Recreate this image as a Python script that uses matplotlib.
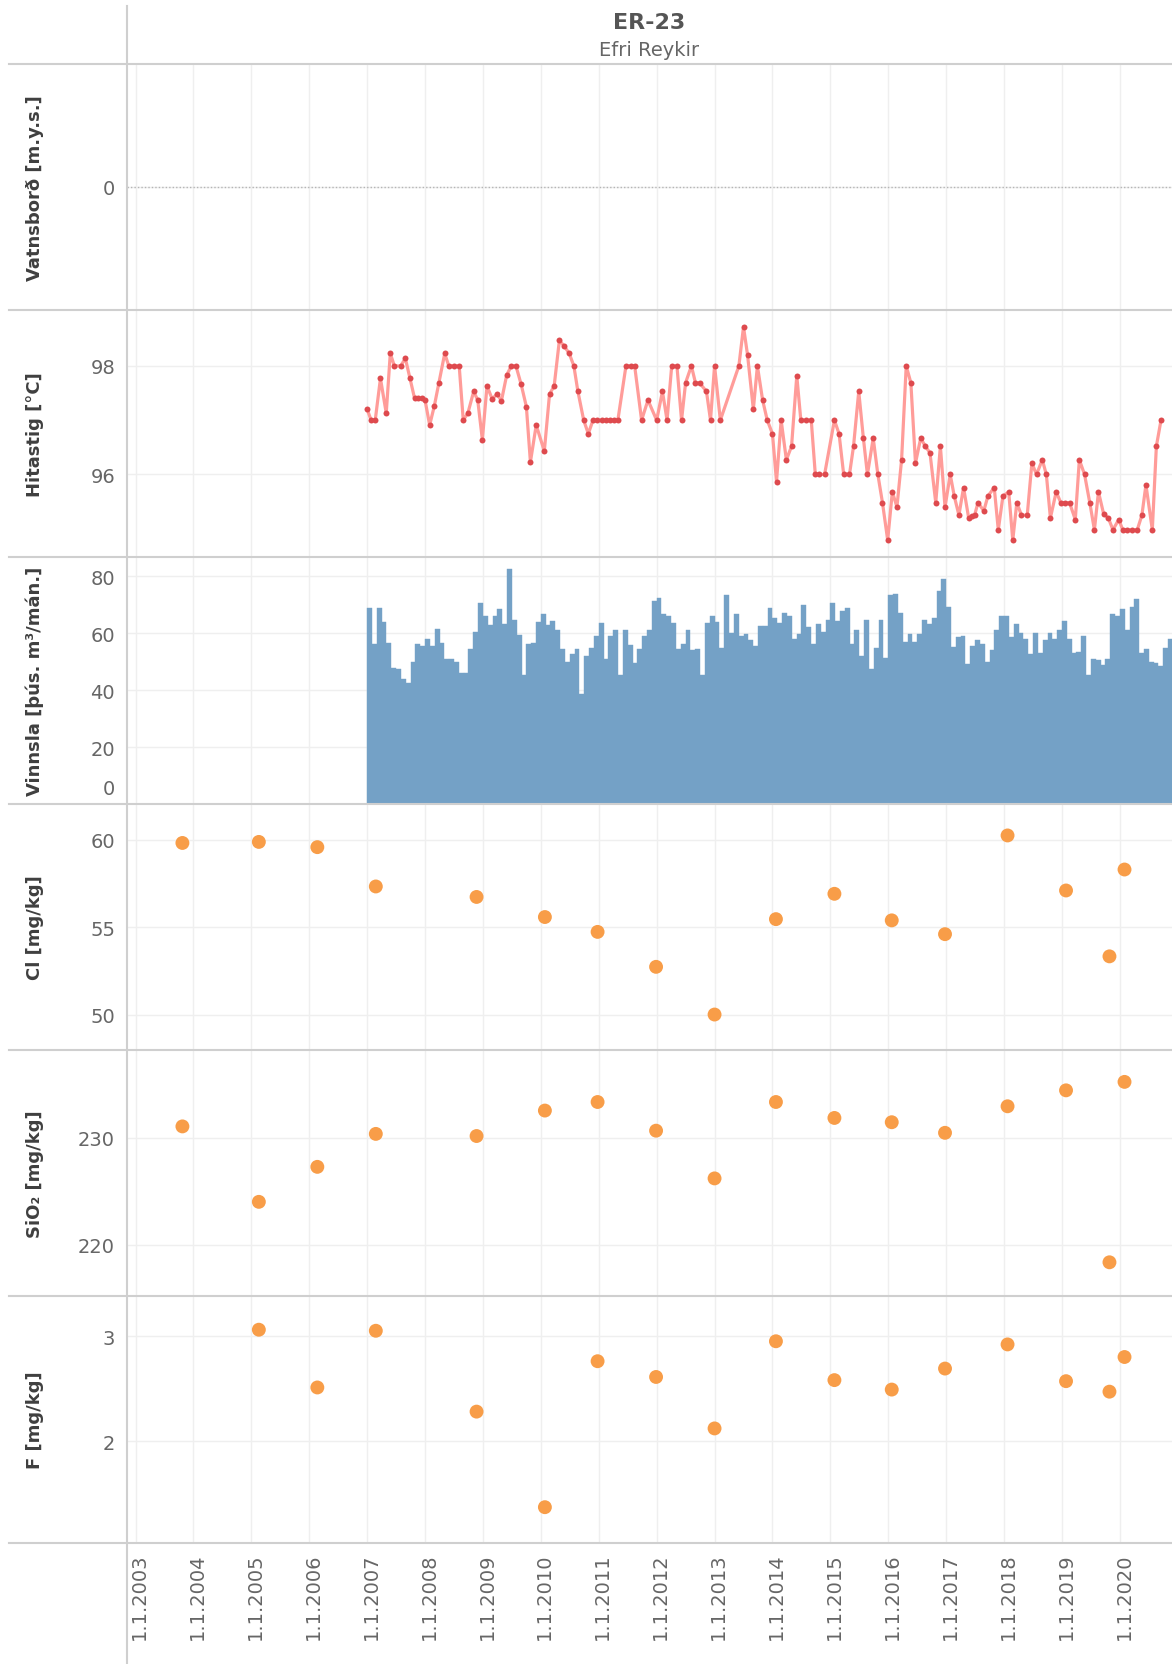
import numpy as np
import matplotlib
matplotlib.use("Agg")
import matplotlib.pyplot as plt
from matplotlib.lines import Line2D
from matplotlib.transforms import ScaledTranslation

# ---------------- data ----------------
title = "ER-23"
subtitle = "Efri Reykir"
panel_labels = ["Vatnsborð [m.y.s.]", "Hitastig [°C]", "Vinnsla [þús. m³/mán.]",
                "Cl [mg/kg]", "SiO₂ [mg/kg]", "F [mg/kg]"]

tick_years = [2003, 2004, 2005, 2006, 2007, 2008, 2009, 2010, 2011,
              2012, 2013, 2014, 2015, 2016, 2017, 2018, 2019, 2020]
tick_labels = ["1.1.%d" % y for y in tick_years]

temp_dates = [
    2007.00, 2007.07, 2007.14, 2007.23, 2007.33, 2007.40, 2007.47, 2007.58, 2007.66, 2007.74,
    2007.82, 2007.87, 2007.94, 2008.00, 2008.08, 2008.16, 2008.24, 2008.34, 2008.41, 2008.50,
    2008.59, 2008.66, 2008.74, 2008.84, 2008.91, 2008.99, 2009.07, 2009.16, 2009.24, 2009.32,
    2009.41, 2009.49, 2009.57, 2009.66, 2009.75, 2009.82, 2009.92, 2010.06, 2010.15, 2010.23,
    2010.32, 2010.40, 2010.49, 2010.57, 2010.64, 2010.74, 2010.82, 2010.90, 2010.97, 2011.05,
    2011.13, 2011.20, 2011.27, 2011.33, 2011.47, 2011.55, 2011.62, 2011.74, 2011.85, 2012.00,
    2012.10, 2012.18, 2012.26, 2012.35, 2012.43, 2012.50, 2012.60, 2012.67, 2012.74, 2012.86,
    2012.93, 2013.00, 2013.10, 2013.42, 2013.50, 2013.57, 2013.67, 2013.74, 2013.83, 2013.91,
    2014.00, 2014.07, 2014.15, 2014.24, 2014.33, 2014.42, 2014.49, 2014.58, 2014.67, 2014.74,
    2014.81, 2014.90, 2015.07, 2015.15, 2015.23, 2015.33, 2015.40, 2015.49, 2015.57, 2015.64,
    2015.74, 2015.82, 2015.90, 2015.99, 2016.07, 2016.15, 2016.23, 2016.31, 2016.39, 2016.47,
    2016.56, 2016.64, 2016.72, 2016.82, 2016.90, 2016.98, 2017.07, 2017.14, 2017.22, 2017.30,
    2017.39, 2017.44, 2017.49, 2017.55, 2017.65, 2017.72, 2017.83, 2017.90, 2017.98, 2018.08,
    2018.15, 2018.22, 2018.30, 2018.40, 2018.48, 2018.56, 2018.66, 2018.73, 2018.80, 2018.90,
    2018.98, 2019.05, 2019.13, 2019.23, 2019.30, 2019.39, 2019.48, 2019.56, 2019.63, 2019.72,
    2019.80, 2019.88, 2019.98, 2020.05, 2020.13, 2020.21, 2020.30, 2020.38, 2020.45, 2020.56,
    2020.63, 2020.71]
temp_values = [
    97.20, 97.00, 97.00, 97.77, 97.13, 98.23, 98.00, 98.00, 98.14, 97.77,
    97.40, 97.40, 97.40, 97.37, 96.91, 97.26, 97.69, 98.23, 98.00, 98.00,
    98.00, 97.00, 97.13, 97.53, 97.37, 96.64, 97.63, 97.39, 97.48, 97.36,
    97.83, 98.00, 98.00, 97.66, 97.25, 96.23, 96.91, 96.43, 97.48, 97.63,
    98.47, 98.37, 98.23, 98.00, 97.53, 97.00, 96.75, 97.00, 97.00, 97.00,
    97.00, 97.00, 97.00, 97.00, 98.00, 98.00, 98.00, 97.00, 97.37, 97.00,
    97.53, 97.00, 98.00, 98.00, 97.00, 97.69, 98.00, 97.69, 97.69, 97.53,
    97.00, 98.00, 97.00, 98.00, 98.72, 98.20, 97.20, 98.00, 97.37, 97.00,
    96.75, 95.87, 97.00, 96.27, 96.52, 97.82, 97.00, 97.00, 97.00, 96.00,
    96.00, 96.00, 97.00, 96.75, 96.00, 96.00, 96.52, 97.53, 96.67, 96.00,
    96.67, 96.00, 95.48, 94.79, 95.68, 95.40, 96.27, 98.00, 97.69, 96.21,
    96.67, 96.52, 96.40, 95.48, 96.52, 95.40, 96.00, 95.60, 95.25, 95.76,
    95.19, 95.23, 95.25, 95.48, 95.33, 95.60, 95.76, 94.98, 95.60, 95.68,
    94.79, 95.48, 95.25, 95.25, 96.21, 96.00, 96.27, 96.00, 95.20, 95.68,
    95.48, 95.48, 95.48, 95.17, 96.27, 96.00, 95.48, 94.98, 95.68, 95.27,
    95.20, 94.98, 95.17, 94.98, 94.98, 94.98, 94.98, 95.25, 95.81, 94.98,
    96.52, 97.00]

# monthly production (thousand m3 / month), Jan 2007 ... Nov 2020
prod_start_year = 2007
prod_values = [
    68.8, 56.1, 68.8, 64.1, 56.6, 47.9, 47.3, 43.8, 42.4, 49.9, 56.1, 55.6,   # 2007
    58.0, 55.6, 61.6, 56.6, 50.9, 50.9, 50.0, 45.9, 45.9, 54.5, 60.6, 70.8,   # 2008
    65.9, 62.8, 66.2, 68.4, 63.3, 82.7, 64.7, 59.3, 45.3, 56.1, 56.6, 64.1,   # 2009
    66.7, 62.8, 64.4, 61.2, 54.4, 49.9, 52.8, 54.4, 38.7, 51.9, 54.9, 59.2,   # 2010
    63.6, 50.9, 59.2, 61.1, 45.3, 61.1, 55.9, 49.4, 54.5, 59.2, 61.1, 71.4,   # 2011
    72.5, 66.8, 65.9, 63.6, 54.5, 56.1, 61.1, 54.0, 54.4, 45.3, 63.6, 66.2,   # 2012
    64.1, 54.9, 73.4, 60.1, 66.8, 59.2, 59.6, 57.5, 55.6, 62.7, 62.7, 68.8,   # 2013
    65.4, 63.6, 67.2, 65.9, 58.0, 59.6, 69.9, 62.1, 56.1, 63.2, 60.6, 64.6,   # 2014
    70.8, 64.4, 67.8, 68.8, 56.1, 61.1, 52.1, 64.7, 47.3, 54.9, 64.7, 51.4,   # 2015
    73.4, 73.9, 67.2, 57.1, 59.6, 57.1, 59.6, 64.7, 63.3, 65.3, 74.9, 79.2,   # 2016
    69.4, 55.1, 58.7, 59.2, 49.1, 55.6, 57.5, 56.1, 50.0, 54.0, 61.2, 66.2,   # 2017
    65.9, 58.7, 63.2, 60.1, 58.0, 52.6, 60.1, 52.9, 57.5, 60.1, 58.0, 61.1,   # 2018
    64.2, 58.0, 52.9, 53.5, 59.1, 45.3, 50.9, 50.5, 48.9, 50.9, 66.7, 66.2,   # 2019
    68.4, 61.1, 69.4, 71.9, 52.9, 54.5, 50.0, 49.4, 48.4, 54.9, 58.0]         # 2020

chem_dates = [2003.81, 2005.13, 2006.14, 2007.15, 2008.89, 2010.07, 2010.98, 2011.99,
              2013.00, 2014.06, 2015.07, 2016.06, 2016.98, 2018.06, 2019.07, 2019.82, 2020.08]
cl_values = [59.82, 59.88, 59.58, 57.33, 56.73, 55.58, 54.73, 52.73,
             50.00, 55.46, 56.91, 55.39, 54.60, 60.25, 57.10, 53.33, 58.30]
sio2_values = [231.04, 223.99, 227.26, 230.34, 230.14, 232.52, 233.32, 230.64,
               226.18, 233.32, 231.83, 231.43, 230.44, 232.92, 234.41, 218.34, 235.20]
f_values = [np.nan, 3.06, 2.51, 3.05, 2.28, 1.37, 2.76, 2.61,
            2.12, 2.95, 2.58, 2.49, 2.69, 2.92, 2.57, 2.47, 2.80]

# ---------------- style ----------------
W, H = 1172, 1665
fig = plt.figure(figsize=(W / 100, H / 100), dpi=100)
fig.patch.set_facecolor("white")

bounds = [65, 311, 558, 805, 1051, 1297, 1544]
left_px = 127
xmin, xmax = 2002.853, 2020.90
grid_col = "#efefef"
sep_col = "#cfcfcf"
tick_col = "#666666"
label_col = "#3f3f3f"
orange = "#f89d48"
blue = "#74a1c6"
line_red = "#ff9c99"
dot_red = "#de4a4e"

ylims = [(-1, 1), (94.48, 99.03), (0, 86.8), (47.97, 62.05), (215.19, 238.18), (1.029, 3.381)]
yticks = [[0], [96, 98], [20, 40, 60, 80], [50, 55, 60], [220, 230], [2, 3]]

axes = []
for i in range(6):
    top, bot = bounds[i], bounds[i + 1]
    ax = fig.add_axes([left_px / W, 1 - bot / H, 1 - left_px / W, (bot - top) / H])
    ax.set_xlim(xmin, xmax)
    ax.set_ylim(*ylims[i])
    for s in ax.spines.values():
        s.set_visible(False)
    ax.set_xticks(tick_years)
    ax.set_yticks(yticks[i])
    ax.xaxis.grid(True, color=grid_col, lw=1)
    ax.yaxis.grid(i != 0, color=grid_col, lw=1)
    ax.set_axisbelow(True)
    ax.tick_params(length=0, labelsize=14, labelcolor=tick_col, pad=8.6)
    if i < 5:
        ax.tick_params(axis="x", labelbottom=False)
    else:
        ax.set_xticklabels(tick_labels, rotation=90)
        ax.tick_params(axis="x", pad=6.5)
        shift = ScaledTranslation(4 / 100, 0, fig.dpi_scale_trans)
        for lab in ax.get_xticklabels():
            lab.set_transform(lab.get_transform() + shift)
    fig.text(35 / W, 1 - (top + bot) / 2 / H, panel_labels[i], rotation=90,
             ha="center", va="center", fontsize=13, fontweight="bold", color=label_col)
    axes.append(ax)

ax_w, ax_t, ax_p, ax_cl, ax_si, ax_f = axes

# water level: empty, dotted zero line
ax_w.axhline(0, color="#b5b5b5", lw=1, linestyle=(0, (1, 1.5)))

# temperature
ax_t.plot(temp_dates, temp_values, color=line_red, lw=2.3, zorder=2)
ax_t.plot(temp_dates, temp_values, linestyle="none", marker="o", markersize=4.3,
          color=dot_red, markeredgewidth=0, zorder=3)

# production bars
prod_x = prod_start_year + np.arange(len(prod_values)) / 12.0
ax_p.bar(prod_x, prod_values, width=1 / 12.0, align="edge", color=blue,
         edgecolor=blue, linewidth=0.3, zorder=2)
ax_p.annotate("0", xy=(0, 0), xycoords=("axes fraction", "data"),
              xytext=(-8.6, 11.5), textcoords="offset points",
              ha="right", va="center", fontsize=14, color=tick_col)

# chemistry
for ax, vals in [(ax_cl, cl_values), (ax_si, sio2_values), (ax_f, f_values)]:
    ax.scatter(chem_dates, vals, s=100, color=orange, edgecolors="none", zorder=3)

# separators and left axis line
for y in bounds:
    fig.add_artist(Line2D([9 / W, 1], [1 - y / H, 1 - y / H], color=sep_col, lw=1.5,
                          transform=fig.transFigure))
fig.add_artist(Line2D([left_px / W, left_px / W], [1 - 7 / H, 0], color=sep_col, lw=1.5,
                      transform=fig.transFigure))

# titles
fig.text((left_px + W) / 2 / W, 1 - 23 / H, title, ha="center", va="center",
         fontsize=16, fontweight="bold", color="#555555")
fig.text((left_px + W) / 2 / W, 1 - 51 / H, subtitle, ha="center", va="center",
         fontsize=14, color="#666666")

fig.savefig("out.png", dpi=100, facecolor="white")
